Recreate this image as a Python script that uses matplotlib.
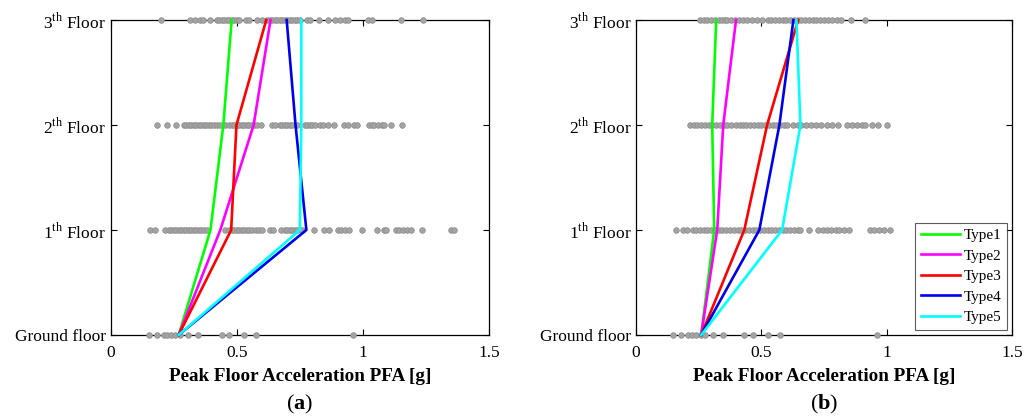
import matplotlib
matplotlib.use('Agg')
import matplotlib.pyplot as plt

plt.rcParams['font.family'] = 'Liberation Serif'
plt.rcParams['mathtext.fontset'] = 'custom'
plt.rcParams['mathtext.rm'] = 'Liberation Serif'
plt.rcParams['mathtext.bf'] = 'Liberation Serif:bold'

floors = [0, 1, 2, 3]
floor_labels = ['Ground floor', r'$1^{\mathrm{th}}$ Floor', r'$2^{\mathrm{th}}$ Floor', r'$3^{\mathrm{th}}$ Floor']
type_names = ['Type1', 'Type2', 'Type3', 'Type4', 'Type5']
type_colors = ['#00ff00', '#ff00ff', '#ff0000', '#0000ee', '#00ffff']

# record PFA values per floor (ground, 1st, 2nd, 3rd)
pfa_a_ground = [0.153, 0.184, 0.21, 0.225, 0.24, 0.255, 0.276, 0.307, 0.348, 0.44, 0.47, 0.53, 0.577, 0.96]
pfa_a_f1 = [0.157, 0.177, 0.217, 0.23, 0.24, 0.25, 0.26, 0.27, 0.28, 0.29, 0.30, 0.31, 0.32, 0.33, 0.34,
            0.35, 0.36, 0.37, 0.384, 0.455, 0.47, 0.48, 0.49, 0.50, 0.51, 0.52, 0.53, 0.54, 0.55, 0.56,
            0.575, 0.59, 0.60, 0.63, 0.645, 0.675, 0.69, 0.70, 0.71, 0.72, 0.73, 0.74, 0.76, 0.805, 0.845,
            0.865, 0.90, 0.915, 0.93, 0.945, 0.996, 1.054, 1.082, 1.09, 1.13, 1.145, 1.16, 1.175, 1.19,
            1.235, 1.35, 1.36]
pfa_a_f2 = [0.185, 0.225, 0.26, 0.29, 0.30, 0.31, 0.32, 0.33, 0.34, 0.35, 0.36, 0.37, 0.38, 0.39, 0.40,
            0.41, 0.42, 0.435, 0.455, 0.47, 0.48, 0.49, 0.50, 0.51, 0.52, 0.53, 0.54, 0.55, 0.56, 0.57,
            0.58, 0.595, 0.64, 0.65, 0.67, 0.68, 0.69, 0.70, 0.71, 0.72, 0.74, 0.77, 0.78, 0.79, 0.80,
            0.81, 0.83, 0.84, 0.86, 0.885, 0.925, 0.94, 0.965, 0.976, 1.025, 1.035, 1.045, 1.06, 1.075,
            1.085, 1.11, 1.154]
pfa_a_f3 = [0.20, 0.316, 0.336, 0.356, 0.368, 0.396, 0.42, 0.43, 0.44, 0.45, 0.46, 0.47, 0.48, 0.49,
            0.50, 0.51, 0.535, 0.547, 0.58, 0.60, 0.62, 0.63, 0.64, 0.65, 0.66, 0.67, 0.68, 0.69, 0.70,
            0.71, 0.72, 0.73, 0.74, 0.75, 0.78, 0.79, 0.825, 0.86, 0.89, 0.91, 0.93, 0.94, 1.02, 1.035,
            1.15, 1.24]

pfa_b_ground = [0.147, 0.179, 0.208, 0.223, 0.24, 0.259, 0.276, 0.307, 0.347, 0.432, 0.468, 0.528, 0.576, 0.96]
pfa_b_f1 = [0.16, 0.188, 0.204, 0.228, 0.24, 0.255, 0.27, 0.285, 0.30, 0.315, 0.33, 0.345, 0.36, 0.375,
            0.39, 0.405, 0.42, 0.435, 0.45, 0.465, 0.48, 0.495, 0.51, 0.525, 0.54, 0.555, 0.57, 0.585,
            0.60, 0.615, 0.63, 0.645, 0.656, 0.692, 0.728, 0.745, 0.76, 0.776, 0.796, 0.81, 0.83, 0.848,
            0.932, 0.95, 0.97, 0.99, 1.012]
pfa_b_f2 = [0.216, 0.23, 0.245, 0.26, 0.275, 0.29, 0.305, 0.32, 0.335, 0.35, 0.365, 0.38, 0.40, 0.416,
            0.428, 0.44, 0.455, 0.47, 0.485, 0.50, 0.515, 0.53, 0.545, 0.56, 0.575, 0.59, 0.604, 0.628,
            0.645, 0.66, 0.68, 0.70, 0.72, 0.74, 0.76, 0.78, 0.804, 0.84, 0.86, 0.88, 0.90, 0.915, 0.94,
            0.964, 1.0]
pfa_b_f3 = [0.256, 0.27, 0.285, 0.30, 0.315, 0.33, 0.345, 0.356, 0.364, 0.38, 0.395, 0.41, 0.425, 0.444,
            0.464, 0.484, 0.504, 0.528, 0.54, 0.555, 0.57, 0.585, 0.60, 0.615, 0.63, 0.645, 0.66, 0.675,
            0.69, 0.705, 0.72, 0.735, 0.75, 0.765, 0.78, 0.80, 0.816, 0.859, 0.915]

# median PFA profile of each building type
median_a = [
    [0.27, 0.396, 0.447, 0.48],
    [0.27, 0.435, 0.567, 0.634],
    [0.27, 0.478, 0.499, 0.617],
    [0.27, 0.776, 0.733, 0.698],
    [0.27, 0.750, 0.756, 0.756],
]
median_b = [
    [0.26, 0.312, 0.304, 0.320],
    [0.26, 0.324, 0.348, 0.399],
    [0.26, 0.432, 0.523, 0.647],
    [0.26, 0.492, 0.572, 0.628],
    [0.26, 0.583, 0.656, 0.640],
]

fig = plt.figure(figsize=(10.34, 4.19), dpi=100)
ax_a = fig.add_axes([0.1069, 0.2005, 0.3661, 0.7518])
ax_b = fig.add_axes([0.6151, 0.2005, 0.3636, 0.7518])


def draw_panel(ax, records, medians, tag, legend=False):
    for fl, vals in zip(floors, records):
        ax.plot(vals, [fl] * len(vals), 'o', ms=4, mfc='#a4a4a4', mec='#909090', mew=0.6,
                clip_on=False, zorder=3)
    for name, col, prof in zip(type_names, type_colors, medians):
        ax.plot(prof, floors, color=col, lw=1.9, label=name, clip_on=False, zorder=4)
    ax.set_xlim(0, 1.5)
    ax.set_ylim(0, 3)
    ax.set_xticks([0, 0.5, 1, 1.5])
    ax.set_xticklabels(['0', '0.5', '1', '1.5'])
    ax.set_yticks(floors)
    ax.set_yticklabels(floor_labels)
    ax.tick_params(direction='in', top=True, right=True, labelsize=12.5, length=4, width=0.8)
    ax.tick_params(axis='x', pad=7)
    for s in ax.spines.values():
        s.set_linewidth(0.9)
    ax.set_xlabel('Peak Floor Acceleration PFA [g]', fontsize=13.8, fontweight='bold', labelpad=5)
    ax.text(0.5, -0.222, r'($\mathbf{' + tag + r'}$)', transform=ax.transAxes, ha='center', va='center',
            fontsize=16)
    if legend:
        leg = ax.legend(loc='lower right', fontsize=11, frameon=True, fancybox=False, handlelength=2.6,
                        handletextpad=0.2, borderpad=0.35, labelspacing=0.45, borderaxespad=0.35)
        leg.get_frame().set_edgecolor('#333333')
        leg.get_frame().set_linewidth(0.8)


draw_panel(ax_a, [pfa_a_ground, pfa_a_f1, pfa_a_f2, pfa_a_f3], median_a, 'a')
draw_panel(ax_b, [pfa_b_ground, pfa_b_f1, pfa_b_f2, pfa_b_f3], median_b, 'b', legend=True)

fig.savefig('out.png', dpi=100)
